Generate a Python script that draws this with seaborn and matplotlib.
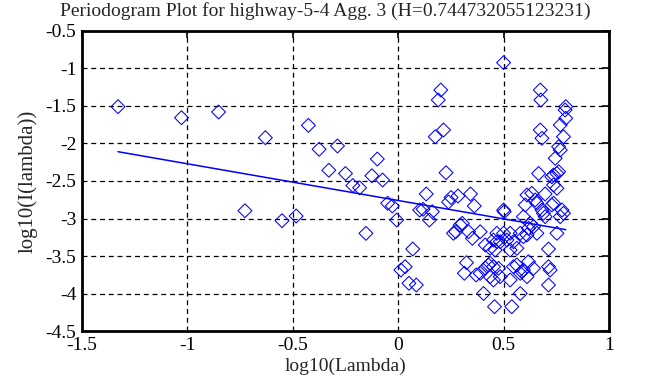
import numpy as np
import pandas as pd
import matplotlib
matplotlib.use("Agg")
import matplotlib.pyplot as plt
import seaborn as sns

# periodogram points, low frequencies (sparse part)
x_low = [-1.329, -1.028, -0.852, -0.727, -0.630, -0.551, -0.484, -0.426, -0.375, -0.329,
         -0.288, -0.250, -0.215, -0.183, -0.153, -0.125, -0.099, -0.074, -0.050, -0.028,
         -0.007, 0.013, 0.033, 0.051, 0.069, 0.086, 0.102, 0.118, 0.133, 0.148,
         0.162, 0.176, 0.190, 0.202, 0.215, 0.227, 0.239, 0.251, 0.262, 0.273,
         0.284, 0.294, 0.304, 0.314, 0.324, 0.334, 0.343, 0.352, 0.361, 0.370]
y_low = [-1.509, -1.656, -1.580, -2.896, -1.923, -3.029, -2.967, -1.758, -2.077, -2.357,
         -2.033, -2.400, -2.560, -2.590, -3.198, -2.430, -2.207, -2.487, -2.797, -2.833,
         -3.020, -3.687, -3.643, -3.864, -3.407, -3.887, -2.887, -2.877, -2.673, -3.020,
         -2.909, -1.910, -1.420, -1.287, -1.820, -2.389, -2.780, -2.720, -3.197, -3.176,
         -2.700, -3.087, -3.064, -3.730, -3.589, -3.176, -2.673, -3.264, -2.833, -3.753]

# high frequencies (dense part)
x_high = [0.389, 0.389, 0.405, 0.413, 0.413, 0.428, 0.436, 0.436, 0.436, 0.452,
          0.452, 0.452, 0.457, 0.460, 0.468, 0.468, 0.476, 0.484, 0.484, 0.500,
          0.500, 0.500, 0.503, 0.516, 0.531, 0.531, 0.531, 0.539, 0.547, 0.547,
          0.563, 0.563, 0.579, 0.579, 0.579, 0.587, 0.594, 0.594, 0.594, 0.603,
          0.611, 0.611, 0.611, 0.618, 0.618, 0.626, 0.634, 0.642, 0.642, 0.650,
          0.658, 0.658, 0.666, 0.674, 0.677, 0.674, 0.682, 0.682, 0.689, 0.697,
          0.697, 0.713, 0.713, 0.721, 0.713, 0.729, 0.729, 0.737, 0.737, 0.737,
          0.745, 0.753, 0.753, 0.753, 0.761, 0.761, 0.769, 0.769, 0.769, 0.777,
          0.784, 0.784, 0.792, 0.795, 0.795]
y_high = [-3.731, -3.176, -4.000, -3.353, -3.660, -3.620, -3.397, -3.776, -3.597, -3.643,
          -3.820, -3.287, -4.176, -3.420, -3.310, -3.197, -3.664, -3.776, -3.310, -3.197,
          -2.887, -0.922, -2.909, -3.287, -3.197, -3.420, -3.820, -4.176, -3.643, -3.310,
          -3.397, -3.620, -3.197, -3.731, -4.000, -3.709, -2.976, -3.243, -3.687, -2.820,
          -2.687, -3.220, -3.776, -3.130, -3.576, -3.064, -2.664, -3.109, -3.664, -2.753,
          -2.797, -3.197, -2.400, -1.287, -1.420, -1.820, -1.930, -2.887, -2.931, -2.673,
          -2.976, -3.407, -3.643, -3.687, -3.887, -2.443, -2.820, -2.553, -2.797, -2.420,
          -2.197, -2.597, -2.400, -3.197, -2.043, -2.376, -2.087, -1.753, -2.976, -2.887,
          -2.931, -1.910, -1.553, -1.509, -1.664]

H = 0.744732055123231
intercept = -2.760

df = pd.DataFrame({"x": x_low + x_high, "y": y_low + y_high})
slope = 1 - 2 * H
fit = pd.DataFrame({"x": [df["x"].min(), df["x"].max()]})
fit["y"] = intercept + slope * fit["x"]

sns.set_style("white")
plt.rcParams["font.family"] = ["Liberation Serif", "DejaVu Serif"]

fig = plt.figure(figsize=(6.58, 3.87), dpi=100)
ax = fig.add_axes([0.1246, 0.1447, 0.8009, 0.7752])

sns.scatterplot(data=df, x="x", y="y", marker="D", s=50, facecolor="none",
                edgecolor="blue", linewidth=0.75, ax=ax, zorder=3)
sns.lineplot(data=fit, x="x", y="y", color="blue", linewidth=1.1, ax=ax, zorder=4)

ax.set_xlim(-1.5, 1)
ax.set_ylim(-4.5, -0.5)
xt = [-1.5, -1, -0.5, 0, 0.5, 1]
yt = [-4.5, -4, -3.5, -3, -2.5, -2, -1.5, -1, -0.5]
ax.set_xticks(xt)
ax.set_yticks(yt)
ax.set_xticklabels(["%g" % v for v in xt])
ax.set_yticklabels(["%g" % v for v in yt])
ax.tick_params(direction="in", length=5, width=1.2, top=True, right=True,
               labelsize=14, colors="black", pad=4)
ax.grid(True, color="black", linestyle=(0, (4, 3)), linewidth=0.9)
for sp in ax.spines.values():
    sp.set_color("black")
    sp.set_linewidth(2)

fig.suptitle("Periodogram Plot for highway-5-4 Agg. 3 (H=0.744732055123231)",
             x=0.494, y=0.995, va="top", fontsize=14)
ax.set_xlabel("log10(Lambda)", fontsize=14, labelpad=3)
ax.set_ylabel("log10(I(lambda))", fontsize=15, labelpad=6)

fig.savefig("out.png", dpi=100)
